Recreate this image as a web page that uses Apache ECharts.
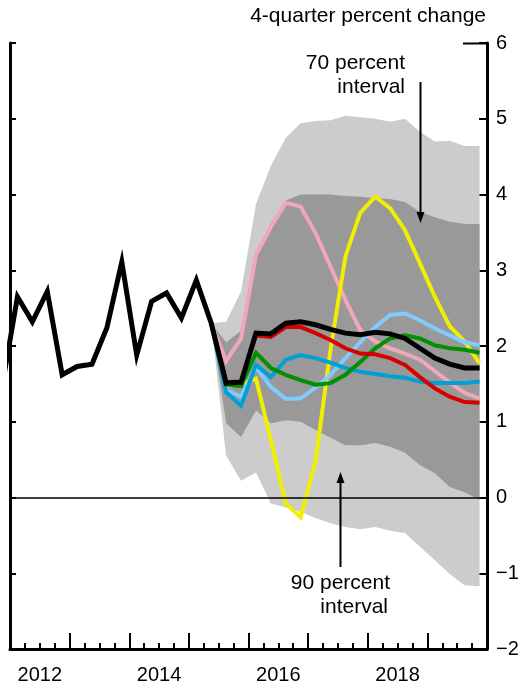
<!DOCTYPE html>
<html>
<head>
<meta charset="utf-8">
<script src="https://cdn.jsdelivr.net/npm/echarts@6/dist/echarts.min.js"></script>
<style>
html,body{margin:0;padding:0;background:#fff;}
#chart{width:524px;height:688px;}
</style>
</head>
<body>
<div id="chart"></div>
<script>
// ---- categories ----
const quarters = [
  '2011Q4',
  '2012Q1','2012Q2','2012Q3','2012Q4',
  '2013Q1','2013Q2','2013Q3','2013Q4',
  '2014Q1','2014Q2','2014Q3','2014Q4',
  '2015Q1','2015Q2','2015Q3','2015Q4',
  '2016Q1','2016Q2','2016Q3','2016Q4',
  '2017Q1','2017Q2','2017Q3','2017Q4',
  '2018Q1','2018Q2','2018Q3','2018Q4',
  '2019Q1','2019Q2','2019Q3','2019Q4'
];
const projectionStart = '2015Q2';
const yearLabels = ['2012','2013','2014','2015','2016','2017','2018','2019'];

// ---- series values ----
// baseline (history + projection), one value per quarter
const baseline = [1.50,
  2.65,2.32,2.72,1.62,
  1.73,1.76,2.24,3.11,
  1.88,2.59,2.70,2.37,
  2.87,2.30,1.51,1.52,
  2.17,2.16,2.30,2.32,
  2.28,2.22,2.17,2.15,
  2.18,2.16,2.10,1.97,
  1.84,1.76,1.71,1.71];

// alternative scenarios, from 2015Q2 to 2019Q4
const pink      = [2.30,1.80,2.10,3.20,3.57,3.89,3.84,3.49,3.05,2.61,2.21,2.06,1.97,1.90,1.82,1.67,1.52,1.38,1.31];
const yellow    = [2.30,1.47,1.50,1.57,0.76,-0.08,-0.26,0.48,1.95,3.18,3.76,3.97,3.82,3.53,3.09,2.65,2.26,2.06,1.77];
const red       = [2.30,1.52,1.53,2.14,2.12,2.25,2.25,2.17,2.08,1.97,1.90,1.89,1.84,1.75,1.59,1.44,1.33,1.26,1.25];
const green     = [2.30,1.49,1.47,1.91,1.71,1.62,1.55,1.49,1.51,1.62,1.79,1.97,2.10,2.14,2.10,2.01,1.97,1.95,1.91];
const lightBlue = [2.30,1.42,1.33,1.72,1.46,1.30,1.31,1.45,1.62,1.84,2.05,2.25,2.41,2.43,2.34,2.23,2.14,2.05,2.01];
const blue      = [2.30,1.39,1.21,1.75,1.59,1.82,1.88,1.84,1.78,1.71,1.66,1.63,1.60,1.58,1.53,1.51,1.51,1.51,1.53];

// confidence bands, from 2015Q2 to 2019Q4
const upper90 = [2.30,2.32,2.72,3.87,4.38,4.75,4.94,4.97,4.98,5.04,5.02,5.00,4.96,5.00,4.83,4.70,4.71,4.64,4.64];
const upper70 = [2.30,2.05,2.20,3.22,3.62,3.92,4.00,4.00,4.00,3.98,3.97,3.95,3.94,3.90,3.77,3.70,3.64,3.61,3.61];
const lower70 = [2.30,0.98,0.80,1.15,0.98,1.02,1.00,0.89,0.79,0.69,0.69,0.72,0.67,0.59,0.43,0.32,0.14,0.07,-0.03];
const lower90 = [2.30,0.55,0.22,0.33,-0.08,-0.13,-0.19,-0.27,-0.34,-0.39,-0.42,-0.39,-0.44,-0.47,-0.65,-0.83,-1.01,-1.16,-1.17];

// ---- helpers ----
function qPos(label){ // centre of the quarter in fractional years
  const y = parseInt(label.slice(0,4),10), q = parseInt(label.slice(5),10);
  return y + (q - 0.5) / 4;
}
const xAll = quarters.map(qPos);
const pStart = quarters.indexOf(projectionStart);
const xProj = xAll.slice(pStart);
const pair = (xs, vs) => vs.map((v,i) => [xs[i], v]);

const FONT = 'Liberation Sans, Arial, Helvetica, sans-serif';

function lineSeries(name, vals, color, width, z){
  return {
    name, type:'line', data: pair(xProj, vals), xAxisIndex:0, yAxisIndex:0,
    showSymbol:false, symbol:'none', clip:true, z,
    lineStyle:{color, width, join:'miter', cap:'butt'}, silent:true
  };
}

function bandSeries(upper, lower, color, z, extra){
  return Object.assign({
    type:'custom', xAxisIndex:0, yAxisIndex:0, z, silent:true,
    data:[[xProj[0], upper[0]]],
    renderItem:function(params, api){
      const pts = [];
      for (let i = 0; i < upper.length; i++) pts.push(api.coord([xProj[i], upper[i]]));
      for (let i = lower.length - 1; i >= 0; i--) pts.push(api.coord([xProj[i], lower[i]]));
      return {type:'polygon', shape:{points:pts}, style:{fill:color, stroke:null}};
    }
  }, extra || {});
}

const chart = echarts.init(document.getElementById('chart'), null, {renderer:'canvas'});

const option = {
  animation:false,
  backgroundColor:'#ffffff',
  grid:{left:10, right:37, top:43, bottom:39, containLabel:false},
  xAxis:[
    {
      type:'value', min:2012, max:2020, interval:1, position:'bottom',
      axisLine:{show:true, onZero:false, lineStyle:{color:'#000', width:3}},
      axisTick:{show:true, inside:true, length:16, lineStyle:{color:'#000', width:2}},
      minorTick:{show:true, splitNumber:4, length:6, lineStyle:{color:'#000', width:2}},
      axisLabel:{show:false}, splitLine:{show:false}, minorSplitLine:{show:false}
    },
    {
      type:'category', data:yearLabels, boundaryGap:true, position:'bottom',
      axisLine:{show:false}, axisTick:{show:false}, splitLine:{show:false},
      axisLabel:{show:true, interval:1, margin:16, color:'#000', fontSize:20, fontFamily:FONT}
    }
  ],
  yAxis:[
    {
      type:'value', min:-2, max:6, interval:1, position:'right',
      axisLine:{show:true, onZero:false, lineStyle:{color:'#000', width:3}},
      axisTick:{show:true, inside:true, length:8, lineStyle:{color:'#000', width:2}},
      axisLabel:{show:true, margin:9, color:'#000', fontSize:20, fontFamily:FONT,
        formatter: v => (v < 0 ? '\u2212' + Math.abs(v) : String(v))},
      splitLine:{show:false}
    },
    {
      type:'value', min:-2, max:6, interval:1, position:'left',
      axisLine:{show:true, onZero:false, lineStyle:{color:'#000', width:3}},
      axisTick:{show:true, inside:true, length:6, lineStyle:{color:'#000', width:2}},
      axisLabel:{show:false}, splitLine:{show:false}
    }
  ],
  series:[
    bandSeries(upper90, lower90, '#cccccc', 1),
    bandSeries(upper70, lower70, '#999999', 1, {
      markLine:{silent:true, symbol:'none', label:{show:false},
        lineStyle:{color:'#000', width:1.5, type:'solid'}, data:[{yAxis:0}]}
    }),
    lineSeries('pink', pink, '#f2a7b8', 4, 3),
    lineSeries('yellow', yellow, '#f0ef00', 4, 3),
    lineSeries('lightblue', lightBlue, '#80ccff', 4, 3),
    lineSeries('blue', blue, '#00a0d6', 4, 3),
    lineSeries('green', green, '#009000', 4, 3),
    lineSeries('red', red, '#d60000', 4, 3),
    {name:'baseline', type:'line', data:pair(xAll, baseline), xAxisIndex:0, yAxisIndex:0,
      showSymbol:false, symbol:'none', clip:true, z:4, silent:true,
      lineStyle:{color:'#000', width:5, join:'miter', cap:'butt'}}
  ],
  graphic:[
    {type:'text', right:524-486, top:6, style:{text:'4-quarter percent change', fill:'#000',
      font:'21px ' + FONT, textAlign:'right'}},
    {type:'text', x:405, y:63, style:{text:'70 percent', fill:'#000', font:'21px ' + FONT,
      textAlign:'right', textVerticalAlign:'middle'}},
    {type:'text', x:405, y:87, style:{text:'interval', fill:'#000', font:'21px ' + FONT,
      textAlign:'right', textVerticalAlign:'middle'}},
    {type:'text', x:390, y:583, style:{text:'90 percent', fill:'#000', font:'21px ' + FONT,
      textAlign:'right', textVerticalAlign:'middle'}},
    {type:'text', x:388, y:607, style:{text:'interval', fill:'#000', font:'21px ' + FONT,
      textAlign:'right', textVerticalAlign:'middle'}},
    // arrow to 70 percent band
    {type:'line', shape:{x1:420.5, y1:82, x2:420.5, y2:214}, style:{stroke:'#000', lineWidth:2}, z:10},
    {type:'polygon', shape:{points:[[416.5,212],[424.5,212],[420.5,223]]}, style:{fill:'#000'}, z:10},
    // arrow to 90 percent band
    {type:'line', shape:{x1:340.5, y1:567, x2:340.5, y2:481}, style:{stroke:'#000', lineWidth:2}, z:10},
    {type:'polygon', shape:{points:[[336.5,483],[344.5,483],[340.5,472]]}, style:{fill:'#000'}, z:10},
    // longer top-right tick at 6
    {type:'line', shape:{x1:463, y1:43.5, x2:487, y2:43.5}, style:{stroke:'#000', lineWidth:2}, z:10}
  ]
};
chart.setOption(option);
</script>
</body>
</html>
